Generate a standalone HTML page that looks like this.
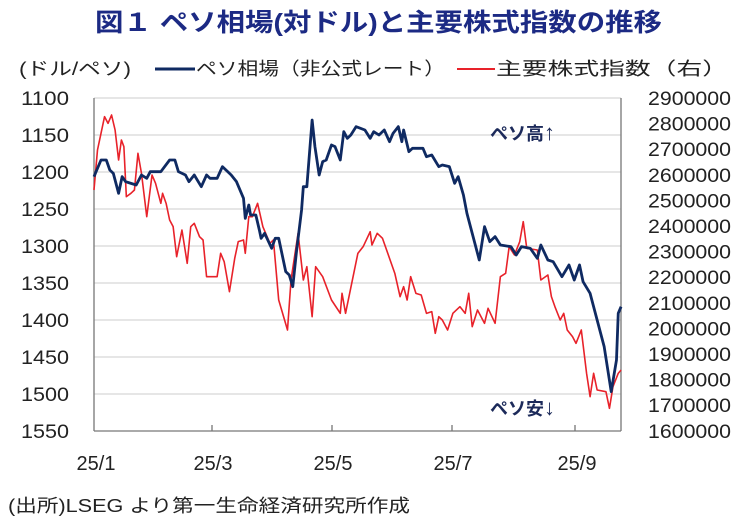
<!DOCTYPE html>
<html><head><meta charset="utf-8"><style>
html,body{margin:0;padding:0;background:#fff;}
svg{display:block;}
text{font-family:"Liberation Sans","Noto Sans CJK JP",sans-serif;}
</style></head><body>
<svg width="744" height="530" viewBox="0 0 744 530" xmlns="http://www.w3.org/2000/svg">
<text x="95" y="31" font-size="25" font-weight="bold" fill="#1c2a84" textLength="567" lengthAdjust="spacingAndGlyphs">図１ ペソ相場(対ドル)と主要株式指数の推移</text>
<text x="19" y="75" font-size="18" fill="#222" textLength="112" lengthAdjust="spacingAndGlyphs">(ドル/ペソ)</text>
<line x1="155" y1="69" x2="195" y2="69" stroke="#0f2a62" stroke-width="3"/>
<text x="196" y="75" font-size="18" fill="#222" textLength="249" lengthAdjust="spacingAndGlyphs">ペソ相場（非公式レート）</text>
<line x1="457" y1="69" x2="495" y2="69" stroke="#e8222a" stroke-width="2"/>
<text x="496" y="75" font-size="18" fill="#222" textLength="232" lengthAdjust="spacingAndGlyphs">主要株式指数（右）</text>
<g stroke="#d6d6d6" stroke-width="1.2">
<line x1="94" y1="98" x2="621" y2="98"/><line x1="94" y1="135" x2="621" y2="135"/><line x1="94" y1="172" x2="621" y2="172"/><line x1="94" y1="209" x2="621" y2="209"/><line x1="94" y1="246" x2="621" y2="246"/><line x1="94" y1="283" x2="621" y2="283"/><line x1="94" y1="320" x2="621" y2="320"/><line x1="94" y1="357" x2="621" y2="357"/><line x1="94" y1="394" x2="621" y2="394"/>
</g>
<g stroke="#777" stroke-width="1.3" fill="none">
<line x1="94" y1="98" x2="94" y2="431"/><line x1="621" y1="98" x2="621" y2="431"/><line x1="94" y1="431" x2="621" y2="431"/>
<line x1="212" y1="425" x2="212" y2="431"/><line x1="332" y1="425" x2="332" y2="431"/><line x1="452" y1="425" x2="452" y2="431"/><line x1="575" y1="425" x2="575" y2="431"/>
</g>
<g font-size="19" fill="#222" text-anchor="end">
<text x="69" y="105" textLength="48" lengthAdjust="spacingAndGlyphs">1100</text><text x="69" y="142" textLength="48" lengthAdjust="spacingAndGlyphs">1150</text><text x="69" y="179" textLength="48" lengthAdjust="spacingAndGlyphs">1200</text><text x="69" y="216" textLength="48" lengthAdjust="spacingAndGlyphs">1250</text><text x="69" y="253" textLength="48" lengthAdjust="spacingAndGlyphs">1300</text><text x="69" y="290" textLength="48" lengthAdjust="spacingAndGlyphs">1350</text><text x="69" y="327" textLength="48" lengthAdjust="spacingAndGlyphs">1400</text><text x="69" y="364" textLength="48" lengthAdjust="spacingAndGlyphs">1450</text><text x="69" y="401" textLength="48" lengthAdjust="spacingAndGlyphs">1500</text><text x="69" y="438" textLength="48" lengthAdjust="spacingAndGlyphs">1550</text>
</g>
<g font-size="19" fill="#222" text-anchor="end">
<text x="731" y="105" textLength="83" lengthAdjust="spacingAndGlyphs">2900000</text><text x="731" y="130.6" textLength="83" lengthAdjust="spacingAndGlyphs">2800000</text><text x="731" y="156.2" textLength="83" lengthAdjust="spacingAndGlyphs">2700000</text><text x="731" y="181.8" textLength="83" lengthAdjust="spacingAndGlyphs">2600000</text><text x="731" y="207.4" textLength="83" lengthAdjust="spacingAndGlyphs">2500000</text><text x="731" y="233" textLength="83" lengthAdjust="spacingAndGlyphs">2400000</text><text x="731" y="258.6" textLength="83" lengthAdjust="spacingAndGlyphs">2300000</text><text x="731" y="284.2" textLength="83" lengthAdjust="spacingAndGlyphs">2200000</text><text x="731" y="309.8" textLength="83" lengthAdjust="spacingAndGlyphs">2100000</text><text x="731" y="335.4" textLength="83" lengthAdjust="spacingAndGlyphs">2000000</text><text x="731" y="361" textLength="83" lengthAdjust="spacingAndGlyphs">1900000</text><text x="731" y="386.6" textLength="83" lengthAdjust="spacingAndGlyphs">1800000</text><text x="731" y="412.2" textLength="83" lengthAdjust="spacingAndGlyphs">1700000</text><text x="731" y="438" textLength="83" lengthAdjust="spacingAndGlyphs">1600000</text>
</g>
<g font-size="20" fill="#222" text-anchor="middle">
<text x="96" y="470">25/1</text><text x="213" y="470">25/3</text><text x="333" y="470">25/5</text><text x="453" y="470">25/7</text><text x="577" y="470">25/9</text>
</g>
<text x="8" y="512" font-size="18" fill="#222" textLength="402" lengthAdjust="spacingAndGlyphs">(出所)LSEG より第一生命経済研究所作成</text>
<text x="490" y="140" font-size="18" font-weight="bold" fill="#1c2a5a">ペソ高<tspan font-size="22">↑</tspan></text>
<text x="490" y="415" font-size="18" font-weight="bold" fill="#1c2a5a">ペソ安<tspan font-size="22">↓</tspan></text>
<g transform="translate(79.9,80) scale(0.35186,0.33333)" fill="none" stroke-linejoin="round">
<polyline vector-effect="non-scaling-stroke" stroke="#e8222a" stroke-width="1.6" points="40,330 50,210 60,160 70,110 80,130 90,105 100,150 110,240 118,180 125,200 132,350 145,340 155,330 165,220 175,280 190,410 205,285 215,310 230,370 235,340 245,370 255,420 265,440 275,530 290,450 305,550 315,440 325,430 340,470 350,480 360,590 370,590 390,590 400,520 410,545 425,635 440,535 450,485 465,480 470,520 480,410 490,410 505,370 520,440 540,490 550,480 565,660 590,750 600,600 620,460 635,600 645,560 660,710 670,560 690,590 715,660 740,700 745,640 755,700 790,520 805,500 825,455 830,495 845,460 860,475 880,535 895,580 910,650 920,620 930,660 940,590 955,640 970,645 985,700 1000,695 1010,760 1020,710 1030,720 1045,750 1060,700 1080,680 1095,700 1105,640 1115,740 1130,690 1150,730 1160,685 1180,730 1195,590 1210,580 1220,500 1235,525 1250,485 1260,425 1270,505 1300,510 1310,600 1330,585 1340,650 1350,680 1365,720 1375,700 1385,750 1400,770 1410,790 1425,750 1440,880 1450,950 1460,880 1470,930 1495,935 1505,985 1515,920 1530,880 1538,870"/>
<polyline vector-effect="non-scaling-stroke" stroke="#0f2a62" stroke-width="2.8" points="40,290 60,240 75,240 85,270 95,280 110,340 120,290 130,305 160,315 175,285 190,295 200,275 230,275 255,240 270,240 280,275 300,285 310,305 325,285 345,320 360,285 370,295 390,295 405,260 420,275 430,285 445,305 465,355 470,415 480,375 485,405 500,405 510,450 515,475 525,460 545,505 555,475 565,475 585,575 595,585 605,620 615,520 630,390 635,320 645,320 660,120 668,200 680,285 690,245 700,240 715,195 725,200 740,240 750,155 760,175 770,165 785,140 810,150 825,175 835,155 850,165 865,150 880,185 890,160 905,140 915,185 920,150 935,215 945,205 975,205 985,230 1000,225 1020,260 1030,255 1050,260 1065,310 1075,290 1090,345 1100,400 1115,460 1135,540 1150,440 1165,485 1180,470 1195,495 1225,500 1240,525 1255,500 1280,505 1300,535 1310,495 1330,540 1345,545 1370,590 1390,555 1405,600 1420,555 1430,605 1450,640 1470,720 1490,800 1510,935 1525,840 1530,700 1538,680"/>
</g>
</svg>
</body></html>
